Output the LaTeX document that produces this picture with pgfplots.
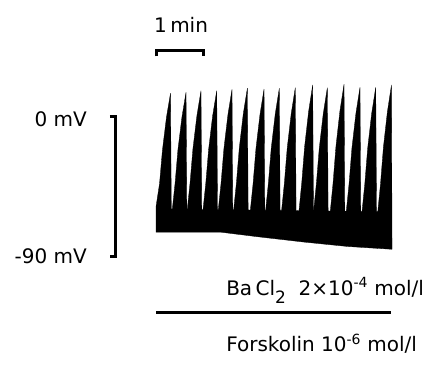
\documentclass[border=0pt]{standalone}
\usepackage{pgfplots}
\pgfplotsset{compat=1.18}
\usepackage{fontspec}
\setmainfont{DejaVu Sans}
\tikzset{lbl/.style={font=\fontsize{20}{24}\selectfont, inner sep=0pt}}
\begin{document}
\begin{tikzpicture}
\begin{axis}[
  scale only axis, width=433pt, height=372pt,
  xmin=-199.2, xmax=353.6, ymin=-165.0, ymax=75.7,
  hide axis, clip=false,
]
\path (rel axis cs:0,0) rectangle (rel axis cs:1,1);
% membrane potential trace (t in s, V in mV)
\addplot[fill=black, draw=black, line width=0.3pt] coordinates {
(0,-58)(4.5,-43.0)(8.2,-21.3)(13.3,-0.3)(18.5,15.5)(19.5,-59.5)
(20.8,-59.6)(24.3,-43.0)(28.0,-21.0)(33.1,0.1)(38.3,16.0)(39.3,-59.6)
(39.9,-59.8)(43.4,-42.9)(47.1,-20.6)(52.2,0.9)(57.4,17.0)(58.4,-59.8)
(60.0,-59.9)(63.5,-43.0)(67.2,-20.7)(72.3,0.9)(77.5,17.0)(78.5,-59.9)
(79.5,-60.0)(83.0,-42.9)(86.7,-20.3)(91.8,1.5)(97.0,17.9)(98.0,-60.0)
(99.1,-60.1)(102.6,-42.8)(106.3,-20.0)(111.4,2.1)(116.6,18.6)(117.6,-60.1)
(120.4,-60.3)(123.9,-43.1)(127.6,-20.3)(132.7,1.6)(137.9,18.1)(138.9,-60.3)
(139.9,-60.4)(143.4,-43.0)(147.1,-20.1)(152.2,2.0)(157.4,18.6)(158.4,-60.4)
(160.3,-60.5)(163.8,-43.0)(167.5,-20.0)(172.6,2.3)(177.8,19.0)(178.8,-60.5)
(182.5,-60.7)(186.0,-42.8)(189.7,-19.2)(194.8,3.6)(200.0,20.7)(201.0,-60.7)
(201.2,-60.8)(204.7,-43.2)(208.4,-20.1)(213.5,2.2)(218.7,19.0)(219.7,-60.8)
(222.5,-60.9)(226.0,-42.8)(229.7,-19.0)(234.8,4.0)(240.0,21.2)(241.0,-60.9)
(242.9,-61.0)(246.4,-43.4)(250.1,-20.1)(255.2,2.4)(260.4,19.2)(261.4,-61.0)
(263.0,-61.2)(266.5,-43.5)(270.2,-20.2)(275.3,2.3)(280.5,19.2)(281.5,-61.2)
(283.1,-61.3)(286.6,-43.3)(290.3,-19.5)(295.4,3.5)(300.6,20.7)(301.3,-85.6)
(245,-83.8)(190,-81.0)(130,-77.5)(82,-74.5)(0,-74.5)
} -- cycle;
% time scale bar (1 min)
\addplot[black, line width=3pt] coordinates {(0,39.3)(0,43)(60,43)(60,39.3)};
% voltage scale bar
\addplot[black, line width=3pt] coordinates {(-59,0)(-52.3,0)(-52.3,-90)(-59,-90)};
% BaCl2 application bar
\addplot[black, line width=3pt] coordinates {(0,-126.4)(300,-126.4)};
\node[lbl, anchor=center] at (axis cs:32,59.5) {1\,min};
\node[lbl, anchor=east] at (axis cs:-88,-1.6) {0 mV};
\node[lbl, anchor=east] at (axis cs:-88,-90.3) {-90 mV};
\node[lbl, anchor=base west] at (axis cs:89.4,-115.2) {Ba\,Cl\raisebox{-0.75ex}{\fontsize{17}{20}\selectfont 2}\ \ 2×10\textsuperscript{-4} mol/l};
\node[lbl, anchor=base west] at (axis cs:89.4,-151.9) {Forskolin 10\textsuperscript{-6} mol/l};
\end{axis}
\end{tikzpicture}
\end{document}
